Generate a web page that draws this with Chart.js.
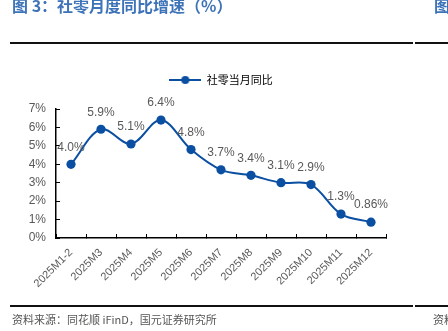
<!DOCTYPE html>
<html>
<head>
<meta charset="utf-8">
<script src="https://cdn.jsdelivr.net/npm/chart.js@4.4.1/dist/chart.umd.min.js"></script>
<style>
  html, body { margin: 0; padding: 0; background: #fff; }
  body { width: 448px; height: 331px; position: relative; overflow: hidden; }
  #wrap { position: absolute; left: 0; top: 0; width: 448px; height: 331px; }
  .title { position: absolute; font-family: "Noto Sans CJK SC", sans-serif; font-weight: 700; font-size: 16px; color: #3d73b8; white-space: nowrap; line-height: 1; }
  .foot { position: absolute; font-family: "Noto Sans CJK SC", sans-serif; font-size: 11px; color: #555; white-space: nowrap; line-height: 1; }
  .rule { position: absolute; height: 2px; background: #111; }
</style>
</head>
<body>
<div id="wrap"><canvas id="salesChart" width="448" height="331"></canvas></div>
<div class="title" style="left:12px; top:-3px;">图 3：社零月度同比增速（%）</div>
<div class="title" style="left:434px; top:-3px;">图</div>
<div class="title" style="left:440px; top:22px;">（</div>
<div class="rule" style="left:10px; width:403px; top:42px;"></div>
<div class="rule" style="left:415px; width:33px; top:42px;"></div>
<div class="rule" style="left:10px; width:403px; top:305px;"></div>
<div class="rule" style="left:415px; width:33px; top:305px;"></div>
<div class="foot" style="left:12px; top:314px;">资料来源：同花顺 iFinD，国元证券研究所</div>
<div class="foot" style="left:433px; top:314px;">资料</div>
<script>
// chart data
const monthLabels = ['2025M1-2', '2025M3', '2025M4', '2025M5', '2025M6', '2025M7',
                     '2025M8', '2025M9', '2025M10', '2025M11', '2025M12'];
const retailYoy = [4.0, 5.9, 5.1, 6.4, 4.8, 3.7, 3.4, 3.0, 2.9, 1.3, 0.86];
const valueLabels = ['4.0%', '5.9%', '5.1%', '6.4%', '4.8%', '3.7%',
                     '3.4%', '3.1%', '2.9%', '1.3%', '0.86%'];
const yTicks = [0, 1, 2, 3, 4, 5, 6, 7];
const seriesName = '社零当月同比';

const blue = '#0b4fa2';
const grey = '#595959';

// small line + dot picture for the legend
function makeLegendIcon() {
    const c = document.createElement('canvas');
    c.width = 32;
    c.height = 10;
    const g = c.getContext('2d');
    g.strokeStyle = blue;
    g.lineWidth = 2;
    g.beginPath();
    g.moveTo(0, 5);
    g.lineTo(32, 5);
    g.stroke();
    g.fillStyle = blue;
    g.beginPath();
    g.arc(16, 5, 4, 0, Math.PI * 2);
    g.fill();
    return c;
}

// draws the value text above each point
const pointLabels = {
    id: 'pointLabels',
    afterDatasetsDraw(chart) {
        const ctx = chart.ctx;
        const meta = chart.getDatasetMeta(0);
        ctx.save();
        ctx.font = '12px "Liberation Sans", Arial, sans-serif';
        ctx.fillStyle = grey;
        ctx.textAlign = 'center';
        ctx.textBaseline = 'middle';
        meta.data.forEach((pt, i) => {
            ctx.fillText(valueLabels[i], pt.x, pt.y - 17);
        });
        ctx.restore();
    }
};

function renderChart() {
    const legendIcon = makeLegendIcon();

    const data = {
        labels: monthLabels,
        datasets: [{
            label: seriesName,
            data: retailYoy,
            borderColor: blue,
            backgroundColor: blue,
            borderWidth: 2,
            pointRadius: 4.6,
            pointBorderWidth: 0,
            pointBackgroundColor: blue,
            tension: 0.35,
            fill: false
        }]
    };

    const config = {
        type: 'line',
        data: data,
        options: {
            responsive: false,
            animation: false,
            layout: {
                padding: { top: 64.5, right: 62, bottom: 33, left: 0 }
            },
            plugins: {
                legend: {
                    display: true,
                    position: 'top',
                    fullSize: false,
                    labels: {
                        usePointStyle: true,
                        pointStyleWidth: 32,
                        padding: 10,
                        color: '#777',
                        font: { family: '"Noto Sans CJK SC", sans-serif', size: 11 },
                        generateLabels: () => [{
                            text: seriesName,
                            pointStyle: legendIcon,
                            fillStyle: blue,
                            strokeStyle: blue,
                            lineWidth: 0,
                            hidden: false,
                            datasetIndex: 0
                        }]
                    }
                },
                // empty spacer between legend and plot
                subtitle: {
                    display: true,
                    text: '',
                    position: 'top',
                    weight: 500,
                    padding: 0,
                    font: { size: 12, lineHeight: 1.125 }
                },
                tooltip: { enabled: false }
            },
            scales: {
                x: {
                    offset: true,
                    grid: {
                        display: true,
                        offset: true,
                        drawOnChartArea: false,
                        drawTicks: true,
                        tickLength: -4,
                        color: '#000',
                        lineWidth: 1
                    },
                    border: { display: true, color: '#000', width: 1.5 },
                    ticks: {
                        minRotation: 45,
                        maxRotation: 45,
                        autoSkip: false,
                        padding: 12,
                        color: grey,
                        font: { family: '"Liberation Sans", Arial, sans-serif', size: 11 }
                    },
                    afterFit(scale) { scale.height = 60; }
                },
                y: {
                    min: 0,
                    max: 7,
                    afterBuildTicks(scale) {
                        scale.ticks = yTicks.map(v => ({ value: v }));
                    },
                    grid: {
                        display: true,
                        drawOnChartArea: false,
                        drawTicks: true,
                        tickLength: -4,
                        color: '#000',
                        lineWidth: 1
                    },
                    border: { display: true, color: '#000', width: 1.5 },
                    ticks: {
                        padding: 14,
                        color: grey,
                        font: { family: '"Liberation Sans", Arial, sans-serif', size: 12 },
                        callback: v => v + '%'
                    },
                    afterFit(scale) { scale.width = 56; }
                }
            }
        },
        plugins: [pointLabels]
    };

    new Chart(document.getElementById('salesChart'), config);
}

renderChart();
</script>
</body>
</html>
